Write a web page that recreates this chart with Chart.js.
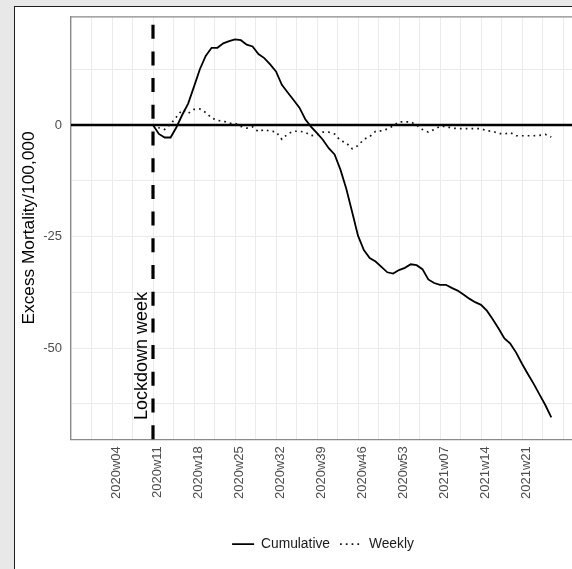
<!DOCTYPE html>
<html><head><meta charset="utf-8">
<script src="https://cdn.jsdelivr.net/npm/chart.js@4.4.1/dist/chart.umd.min.js"></script>
<style>
html,body{margin:0;padding:0;width:572px;height:569px;overflow:hidden;background:#e8e8e8;}
#frame{position:absolute;left:14px;top:6px;width:700px;height:700px;background:#fff;border-left:1.5px solid #1e1e1e;border-top:1.5px solid #1e1e1e;}
#c{position:absolute;left:0;top:0;}
</style></head><body>
<div id="frame"></div>
<canvas id="c" width="646" height="569" style="width:646px;height:569px"></canvas>
<script>
const weeks = [
 '2020w11','2020w12','2020w13','2020w14','2020w15','2020w16','2020w17','2020w18','2020w19','2020w20',
 '2020w21','2020w22','2020w23','2020w24','2020w25','2020w26','2020w27','2020w28','2020w29','2020w30',
 '2020w31','2020w32','2020w33','2020w34','2020w35','2020w36','2020w37','2020w38','2020w39','2020w40',
 '2020w41','2020w42','2020w43','2020w44','2020w45','2020w46','2020w47','2020w48','2020w49','2020w50',
 '2020w51','2020w52','2020w53',
 '2021w01','2021w02','2021w03','2021w04','2021w05','2021w06','2021w07','2021w08','2021w09','2021w10',
 '2021w11','2021w12','2021w13','2021w14','2021w15','2021w16','2021w17','2021w18','2021w19','2021w20',
 '2021w21','2021w22','2021w23','2021w24','2021w25','2021w26'
];
const cumulative = [
 0, -2.0, -2.8, -2.8, -0.5, 2.3, 4.8, 8.6, 12.5, 15.5,
 17.3, 17.3, 18.3, 18.8, 19.2, 19.0, 18.0, 17.6, 15.9, 15.0,
 13.6, 12.0, 9.0, 7.3, 5.6, 3.9, 1.3, -0.4, -1.8, -3.3,
 -5.2, -6.6, -10.0, -14.3, -19.5, -24.8, -28.0, -29.8, -30.6, -31.8,
 -33.0, -33.3, -32.5,
 -32.0, -31.2, -31.4, -32.3, -34.6, -35.4, -35.8, -35.8, -36.5, -37.1,
 -38.0, -38.9, -39.7, -40.3, -41.6, -43.5, -45.6, -47.8, -49.0, -51.0,
 -53.5, -55.8, -58.0, -60.4, -62.8, -65.5
];
const weekly = [
 0, -0.6, -1.0, 0.2, 1.8, 3.4, 2.6, 3.5, 3.6, 2.8,
 1.6, 1.0, 0.9, 0.4, 0.4, -0.3, -0.7, -0.4, -1.5, -1.0,
 -1.4, -1.5, -3.2, -2.0, -1.4, -1.4, -1.6, -2.4, -2.2, -1.6,
 -1.6, -2.0, -3.5, -4.0, -5.3, -4.6, -3.2, -2.6, -1.4, -1.3,
 -0.9, -0.2, 0.7,
 0.7, 0.7, 0.0, -1.0, -1.6, -1.0, -0.3, -0.3, -0.7, -0.8,
 -0.8, -0.8, -0.8, -0.8, -1.3, -1.4, -1.9, -2.0, -1.7, -2.4,
 -2.4, -2.4, -2.4, -2.3, -2.1, -2.7
];
const tickLabels = ['2020w04','2020w11','2020w18','2020w25','2020w32','2020w39','2020w46','2020w53','2021w07','2021w14','2021w21'];
const yTickLabels = [0, -25, -50];
const seriesNames = ['Cumulative', 'Weekly'];
const yTitle = 'Excess Mortality/100,000';
const lockdownWeek = '2020w11';
const annotationText = 'Lockdown week';

function weekIndex(lbl){ const yr = +lbl.slice(0,4), w = +lbl.slice(5); return (yr-2020)*53 + (w-1); }
const tickMap = {};
tickLabels.forEach(l => { tickMap[weekIndex(l)] = l; });

const FONT = '"Liberation Sans", Arial, Helvetica, sans-serif';

const overlay = {
  id: 'overlay',
  beforeDatasetsDraw(chart){
    const {ctx, chartArea: a, scales: {y}} = chart;
    ctx.save();
    ctx.strokeStyle = '#8a8a8a'; ctx.lineWidth = 1.3;
    ctx.beginPath(); ctx.moveTo(a.left, a.top); ctx.lineTo(a.right, a.top); ctx.stroke();
    const y0 = y.getPixelForValue(0);
    ctx.strokeStyle = '#000'; ctx.lineWidth = 2.6;
    ctx.beginPath(); ctx.moveTo(a.left, y0); ctx.lineTo(a.right, y0); ctx.stroke();
    ctx.restore();
  },
  afterDatasetsDraw(chart){
    const {ctx, chartArea: a, scales: {x, y}} = chart;
    const xl = x.getPixelForValue(weekIndex(lockdownWeek));
    ctx.save();
    ctx.strokeStyle = '#000'; ctx.lineWidth = 3.2; ctx.setLineDash([14, 12.7]);
    ctx.beginPath(); ctx.moveTo(xl, a.bottom); ctx.lineTo(xl, a.top); ctx.stroke();
    ctx.setLineDash([]);
    ctx.translate(xl - 5.8, y.getPixelForValue(-66.1));
    ctx.rotate(-Math.PI/2);
    ctx.font = '18px ' + FONT; ctx.fillStyle = '#000';
    ctx.textAlign = 'left'; ctx.textBaseline = 'alphabetic';
    ctx.fillText(annotationText, 0, 0);
    ctx.restore();
  }
};

const legendStyles = [
  { lineWidth: 1.8, lineDash: [] },
  { lineWidth: 1.7, lineDash: [1.7, 4.1] }
];

new Chart(document.getElementById('c'), {
  type: 'line',
  data: {
    datasets: [
      { label: seriesNames[0], data: weeks.map((w,i) => ({x: weekIndex(w), y: cumulative[i]})),
        borderColor: '#000', backgroundColor: '#000', borderWidth: 1.8, pointRadius: 0, tension: 0, fill: false },
      { label: seriesNames[1], data: weeks.map((w,i) => ({x: weekIndex(w), y: weekly[i]})),
        borderColor: '#111', backgroundColor: '#111', borderWidth: 1.7, borderDash: [1.7, 4.1], pointRadius: 0, tension: 0, fill: false }
    ]
  },
  options: {
    responsive: false, animation: false, devicePixelRatio: 1,
    layout: { padding: { left: 0, top: 12.8, right: 0, bottom: 8 } },
    plugins: {
      legend: { position: 'bottom', labels: { usePointStyle: true, pointStyle: 'line', pointStyleWidth: 22,
        color: '#1a1a1a', font: { size: 13.8, family: FONT }, padding: 10,
        generateLabels(chart){
          return chart.data.datasets.map((ds, i) => ({
            text: ds.label, datasetIndex: i, fillStyle: ds.borderColor, strokeStyle: ds.borderColor,
            lineWidth: legendStyles[i].lineWidth, lineDash: legendStyles[i].lineDash, lineCap: 'butt',
            pointStyle: 'line', hidden: false, fontColor: '#1a1a1a'
          }));
        } } },
      tooltip: { enabled: false }
    },
    scales: {
      x: {
        type: 'linear', min: -4, max: 94.17,
        afterBuildTicks(s){ const t = []; for (let v = -4; v <= 87; v += 3.5) t.push({value: v}); s.ticks = t; },
        afterFit(s){ s.height = 88; },
        ticks: { autoSkip: false, minRotation: 90, maxRotation: 90, padding: 7, labelOffset: 4.5,
          color: '#4d4d4d', font: { size: 13, family: FONT },
          callback: v => tickMap[v] || '' },
        grid: { color: '#ebebeb', lineWidth: 1, drawTicks: false },
        border: { color: '#8a8a8a', width: 1.3 }
      },
      y: {
        type: 'linear', min: -70.4, max: 24.25,
        afterBuildTicks(s){ s.ticks = [-62.5, -50, -37.5, -25, -12.5, 0, 12.5].map(v => ({value: v})); },
        afterFit(s){ s.width = 71; },
        ticks: { padding: 9, color: '#4d4d4d', font: { size: 13, family: FONT },
          callback: v => yTickLabels.includes(v) ? String(v) : '' },
        grid: { color: '#ebebeb', lineWidth: 1, drawTicks: false },
        border: { color: '#8a8a8a', width: 1.3 },
        title: { display: true, text: yTitle, color: '#000', font: { size: 17.3, family: FONT }, padding: { top: 18.6, bottom: 0 } }
      }
    }
  },
  plugins: [overlay]
});
</script>
</body></html>
